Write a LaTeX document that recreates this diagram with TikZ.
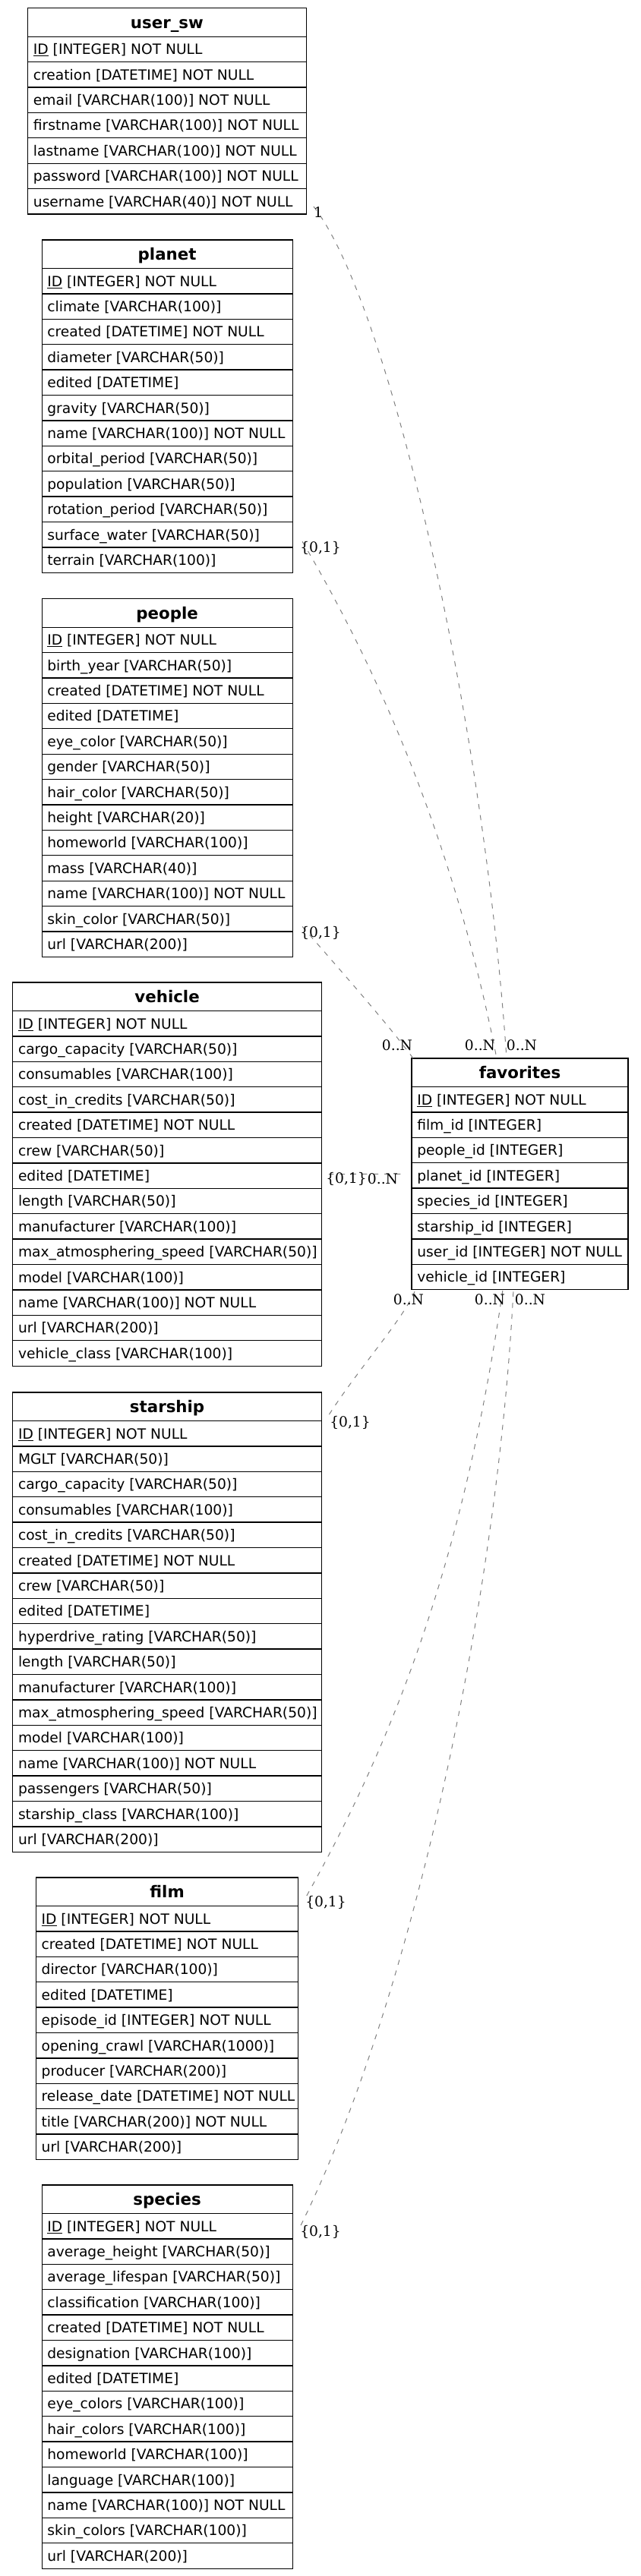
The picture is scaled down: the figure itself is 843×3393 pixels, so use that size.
\documentclass[tikz,border=0pt]{standalone}
\usepackage{fontspec}
\setmainfont{DejaVu Sans}
\newfontfamily\cardfont{DejaVu Serif}
\usepackage{tikz}

% one table: name, centre x, top y, width, title, fields
\newcommand{\dbtable}[6]{%
  \foreach \fld [count=\i] in {#6} {
    \node[field] (#1-\i) at ({#2-#4/2+7},{#3+37.5+(\i-0.5)*33.4+6.8}) {\fld};
    \draw[rowline] ({#2-#4/2},{#3+37.5+(\i-1)*33.4}) -- ++(#4,0);
    \xdef\nfields{\i}
  }
  \node[tablebox, minimum width={#4*0.75pt}, minimum height={(37.5+\nfields*33.4)*0.75pt}] (#1) at (#2,#3) {};
  \node[tabletitle] (#1-title) at (#2,{#3+18.75+7.8}) {#5};
}

\begin{document}
\begin{tikzpicture}[x=0.75pt, y=-0.75pt,
    tablebox/.style={draw, line width=0.9pt, anchor=north, inner sep=0pt, outer sep=0pt},
    rowline/.style={line width=1pt},
    field/.style={anchor=base west, inner sep=0pt, font=\fontsize{14pt}{16pt}\selectfont},
    tabletitle/.style={anchor=base, inner sep=0pt, font=\bfseries\fontsize{16pt}{19pt}\selectfont},
    relation/.style={draw=gray, line width=0.75pt, dash pattern=on 5pt off 6pt},
    card/.style={inner sep=0pt, font=\cardfont\fontsize{14pt}{16pt}\selectfont}]
  \useasboundingbox (0,0) rectangle (843,3393);

  % tables, left column
  \dbtable{user}{219.9}{10.7}{366.5}{user\_sw}{\underline{ID} [INTEGER] NOT NULL, creation [DATETIME] NOT NULL, email [VARCHAR(100)] NOT NULL, firstname [VARCHAR(100)] NOT NULL, lastname [VARCHAR(100)] NOT NULL, password [VARCHAR(100)] NOT NULL, username [VARCHAR(40)] NOT NULL}
  \dbtable{planet}{220.1}{316}{330}{planet}{\underline{ID} [INTEGER] NOT NULL, climate [VARCHAR(100)], created [DATETIME] NOT NULL, diameter [VARCHAR(50)], edited [DATETIME], gravity [VARCHAR(50)], name [VARCHAR(100)] NOT NULL, orbital\_period [VARCHAR(50)], population [VARCHAR(50)], rotation\_period [VARCHAR(50)], surface\_water [VARCHAR(50)], terrain [VARCHAR(100)]}
  \dbtable{people}{220.1}{788.7}{330}{people}{\underline{ID} [INTEGER] NOT NULL, birth\_year [VARCHAR(50)], created [DATETIME] NOT NULL, edited [DATETIME], eye\_color [VARCHAR(50)], gender [VARCHAR(50)], hair\_color [VARCHAR(50)], height [VARCHAR(20)], homeworld [VARCHAR(100)], mass [VARCHAR(40)], name [VARCHAR(100)] NOT NULL, skin\_color [VARCHAR(50)], url [VARCHAR(200)]}
  \dbtable{vehicle}{220.1}{1294}{406.7}{vehicle}{\underline{ID} [INTEGER] NOT NULL, cargo\_capacity [VARCHAR(50)], consumables [VARCHAR(100)], cost\_in\_credits [VARCHAR(50)], created [DATETIME] NOT NULL, crew [VARCHAR(50)], edited [DATETIME], length [VARCHAR(50)], manufacturer [VARCHAR(100)], max\_atmosphering\_speed [VARCHAR(50)], model [VARCHAR(100)], name [VARCHAR(100)] NOT NULL, url [VARCHAR(200)], vehicle\_class [VARCHAR(100)]}
  \dbtable{starship}{220.1}{1834}{406.7}{starship}{\underline{ID} [INTEGER] NOT NULL, MGLT [VARCHAR(50)], cargo\_capacity [VARCHAR(50)], consumables [VARCHAR(100)], cost\_in\_credits [VARCHAR(50)], created [DATETIME] NOT NULL, crew [VARCHAR(50)], edited [DATETIME], hyperdrive\_rating [VARCHAR(50)], length [VARCHAR(50)], manufacturer [VARCHAR(100)], max\_atmosphering\_speed [VARCHAR(50)], model [VARCHAR(100)], name [VARCHAR(100)] NOT NULL, passengers [VARCHAR(50)], starship\_class [VARCHAR(100)], url [VARCHAR(200)]}
  \dbtable{film}{220.1}{2473}{345.4}{film}{\underline{ID} [INTEGER] NOT NULL, created [DATETIME] NOT NULL, director [VARCHAR(100)], edited [DATETIME], episode\_id [INTEGER] NOT NULL, opening\_crawl [VARCHAR(1000)], producer [VARCHAR(200)], release\_date [DATETIME] NOT NULL, title [VARCHAR(200)] NOT NULL, url [VARCHAR(200)]}
  \dbtable{species}{220.1}{2878}{330}{species}{\underline{ID} [INTEGER] NOT NULL, average\_height [VARCHAR(50)], average\_lifespan [VARCHAR(50)], classification [VARCHAR(100)], created [DATETIME] NOT NULL, designation [VARCHAR(100)], edited [DATETIME], eye\_colors [VARCHAR(100)], hair\_colors [VARCHAR(100)], homeworld [VARCHAR(100)], language [VARCHAR(100)], name [VARCHAR(100)] NOT NULL, skin\_colors [VARCHAR(100)], url [VARCHAR(200)]}

  % the link table on the right
  \dbtable{favorites}{684.5}{1394}{285}{favorites}{\underline{ID} [INTEGER] NOT NULL, film\_id [INTEGER], people\_id [INTEGER], planet\_id [INTEGER], species\_id [INTEGER], starship\_id [INTEGER], user\_id [INTEGER] NOT NULL, vehicle\_id [INTEGER]}

  % relations into favorites
  \draw[relation] ([shift={(9.75,-10)}]user.south east) .. controls (513,400) and (637,950) .. ([shift={(-17.5,0)}]favorites.north);
  \draw[relation] ([shift={(13,-41)}]planet.south east) .. controls (516,913) and (605,1144) .. ([shift={(-30.5,0)}]favorites.north);
  \draw[relation] ([shift={(13,-40)}]people.south east) .. controls (434,1262) and (508,1345) .. ([shift={(2,0)}]favorites.north west);
  \draw[relation, shorten <=7pt, shorten >=9pt] (vehicle.east) -- (favorites.west);
  \draw[relation] ([shift={(10,29)}]starship.north east) .. controls (474,1800) and (533,1735) .. ([shift={(5,0)}]favorites.south west);
  \draw[relation] ([shift={(11,24)}]film.north east) .. controls (544,2247) and (618,2000) .. ([shift={(-22.5,0)}]favorites.south);
  \draw[relation] ([shift={(11,53)}]species.north east) .. controls (544,2631) and (656,2100) .. ([shift={(-8.5,0)}]favorites.south);

  % cardinalities
  \node[card] (user-card) at (419,280) {1};
  \node[card] (planet-card) at (422,722) {\{0,1\}};
  \node[card] (people-card) at (422,1229) {\{0,1\}};
  \node[card] (vehicle-card) at (456,1553) {\{0,1\}};
  \node[card] (starship-card) at (461,1874) {\{0,1\}};
  \node[card] (film-card) at (429,2506) {\{0,1\}};
  \node[card] (species-card) at (422,2940) {\{0,1\}};
  \node[card] (fav-people) at (523,1377) {0..N};
  \node[card] (fav-planet) at (632,1377) {0..N};
  \node[card] (fav-user) at (687,1377) {0..N};
  \node[card] (fav-vehicle) at (504,1553) {0..N};
  \node[card] (fav-starship) at (538,1712) {0..N};
  \node[card] (fav-film) at (645,1712) {0..N};
  \node[card] (fav-species) at (698,1712) {0..N};
\end{tikzpicture}
\end{document}
